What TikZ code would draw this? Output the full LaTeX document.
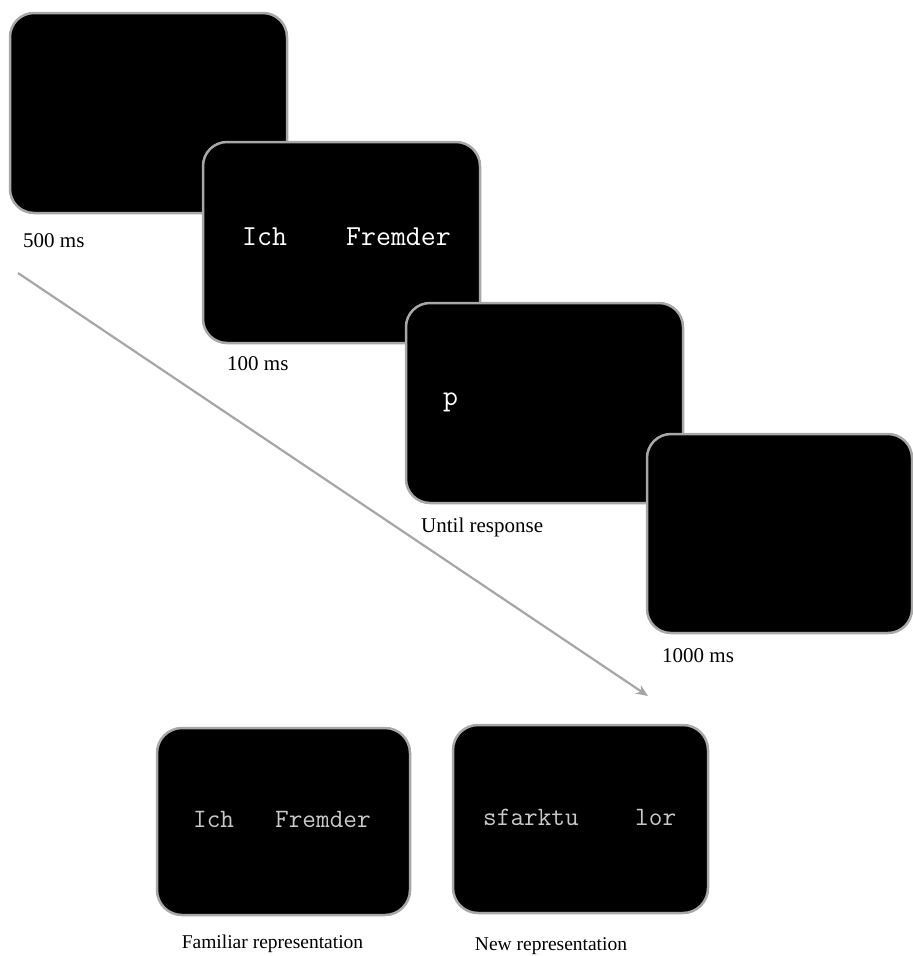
\documentclass[tikz,border=0pt]{standalone}
\usepackage{fontspec}
\setmainfont{Liberation Serif}
\usetikzlibrary{arrows.meta}
\definecolor{scrgray}{HTML}{A8A8A8}
\definecolor{txtgray}{HTML}{C8C8C8}
\definecolor{arrgray}{HTML}{A6A6A6}
\tikzset{
  screen/.style={rectangle, rounded corners=24pt, fill=black, draw=scrgray, line width=2.5pt, inner sep=0pt},
  topword/.style={anchor=base west, inner sep=0pt, text=white, font=\ttfamily\fontsize{29}{33}\selectfont},
  botword/.style={anchor=base west, inner sep=0pt, text=txtgray, font=\ttfamily\fontsize{26.5}{30}\selectfont},
  timelabel/.style={anchor=base west, inner sep=0pt, font=\fontsize{21}{25}\selectfont},
  caplabel/.style={anchor=base, inner sep=0pt, font=\fontsize{19.5}{23}\selectfont},
  timearrow/.style={draw=arrgray, line width=2.2pt, -{Stealth[length=12pt,width=10pt]}}
}
\begin{document}
\begin{tikzpicture}[x=1pt,y=-1pt]
\useasboundingbox (0,0) rectangle (913,956);
% sequence screens
\node[screen, minimum width=277pt, minimum height=200pt] (s1) at (148.5,113) {};
\node[screen, minimum width=277pt, minimum height=201pt] (s2) at (341.5,242.5) {};
\node[screen, minimum width=277pt, minimum height=200pt] (s3) at (544.5,403) {};
\node[screen, minimum width=265pt, minimum height=199pt] (s4) at (779.5,533.5) {};
% screen contents
\node[topword] (w1) at (242,245) {Ich};
\node[topword] (w2) at (346,245) {Fremder};
\node[topword] (w3) at (443,405) {p};
% time labels
\node[timelabel] (t1) at (23,247) {500 ms};
\node[timelabel] (t2) at (227,370) {100 ms};
\node[timelabel] (t3) at (421,532) {Until response};
\node[timelabel] (t4) at (662,662) {1000 ms};
% time arrow
\coordinate (a0) at (18,273);
\coordinate (a1) at (648,696);
\draw[timearrow] (a0) -- (a1);
% bottom screens
\node[screen, rounded corners=25pt, minimum width=253pt, minimum height=187pt] (b1) at (283.5,821.5) {};
\node[screen, rounded corners=25pt, minimum width=255pt, minimum height=188pt] (b2) at (580.5,819) {};
\node[botword] (f1) at (193,827) {Ich};
\node[botword] (f2) at (275,827) {Fremder};
\node[botword] (n1) at (483,825) {sfarktu};
\node[botword] (n2) at (635,825) {lor};
\node[caplabel] (c1) at (272.5,948) {Familiar representation};
\node[caplabel] (c2) at (551,950) {New representation};
\end{tikzpicture}
\end{document}
